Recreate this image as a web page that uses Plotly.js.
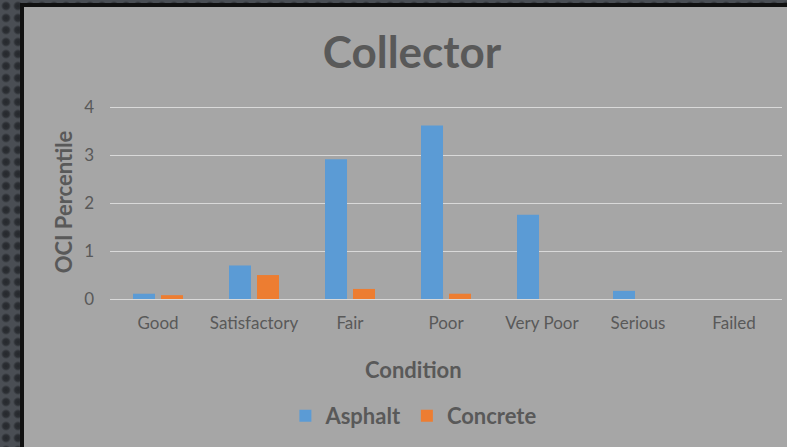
<!DOCTYPE html>
<html>
<head>
<meta charset="utf-8">
<script src="https://cdn.plot.ly/plotly-3.0.1.min.js"></script>
<style>
  html, body { margin: 0; padding: 0; width: 787px; height: 447px; overflow: hidden; }
  body { background-color: #4a4e54;
    background-image: radial-gradient(circle at center, #25282c 0, #2c2f34 3px, rgba(0,0,0,0) 5px);
    background-size: 12px 12px; }
  #frame { position: absolute; left: 20px; top: 3px; width: 767px; height: 444px;
    background: #111; }
  #chart { position: absolute; left: 24px; top: 7px; width: 763px; height: 440px; }
</style>
</head>
<body>
<div id="frame"></div>
<div id="chart"></div>
<script>
const categories = ["Good", "Satisfactory", "Fair", "Poor", "Very Poor", "Serious", "Failed"];
const asphalt = [0.11, 0.70, 2.92, 3.62, 1.76, 0.17, 0];
const concrete = [0.08, 0.50, 0.21, 0.11, 0, 0, 0];
const yTicks = [0, 1, 2, 3, 4];
const xTitle = "Condition";
const yTitle = "OCI Percentile";
const chartTitle = "Collector";

const fontFam = "Lato, 'Open Sans', sans-serif";
const txt = "#595959";

const traces = [
  { type: "bar", name: "Asphalt", x: categories, y: asphalt, marker: { color: "#5b9bd5" } },
  { type: "bar", name: "Concrete", x: categories, y: concrete, marker: { color: "#ed7d31" } }
];

const layout = {
  width: 763, height: 440,
  paper_bgcolor: "#a6a6a6", plot_bgcolor: "#a6a6a6",
  margin: { l: 86, r: 5, t: 98, b: 148 },
  barmode: "group", bargap: 0.417, bargroupgap: 0.214,
  font: { family: fontFam, color: txt },
  title: { text: "<b>" + chartTitle + "</b>", font: { size: 44, color: txt, family: fontFam },
    xref: "container", x: 0.5085, xanchor: "center",
    yref: "container", y: 0.8955, yanchor: "middle" },
  xaxis: {
    type: "category",
    tickfont: { size: 17, color: txt },
    ticks: "", ticklabelstandoff: 12,
    showgrid: false, zeroline: false, showline: false
  },
  yaxis: {
    range: [0, 4.05], tickvals: yTicks,
    tickfont: { size: 17, color: txt },
    ticks: "", ticklabelstandoff: 15,
    showgrid: true, gridcolor: "#d9d9d9", gridwidth: 1,
    zeroline: true, zerolinecolor: "#d9d9d9", zerolinewidth: 1,
    showline: false,
    title: { text: "<b>" + yTitle + "</b>", font: { size: 22, color: txt }, standoff: 5 }
  },
  annotations: [{
    text: "<b>" + xTitle + "</b>", showarrow: false,
    xref: "paper", yref: "paper",
    x: (413 - 24 - 86) / 672, xanchor: "center",
    y: -(369 - 299) / 194, yanchor: "middle",
    font: { size: 22, color: txt, family: fontFam }
  }],
  showlegend: true,
  legend: {
    orientation: "h", xref: "container", x: 0.511, xanchor: "center",
    yref: "container", y: 0.0705, yanchor: "middle",
    font: { size: 22, color: txt, family: fontFam, weight: "bold" },
    bgcolor: "rgba(0,0,0,0)", itemwidth: 30
  }
};

Plotly.newPlot("chart", traces, layout, { displayModeBar: false, staticPlot: true });
</script>
</body>
</html>
